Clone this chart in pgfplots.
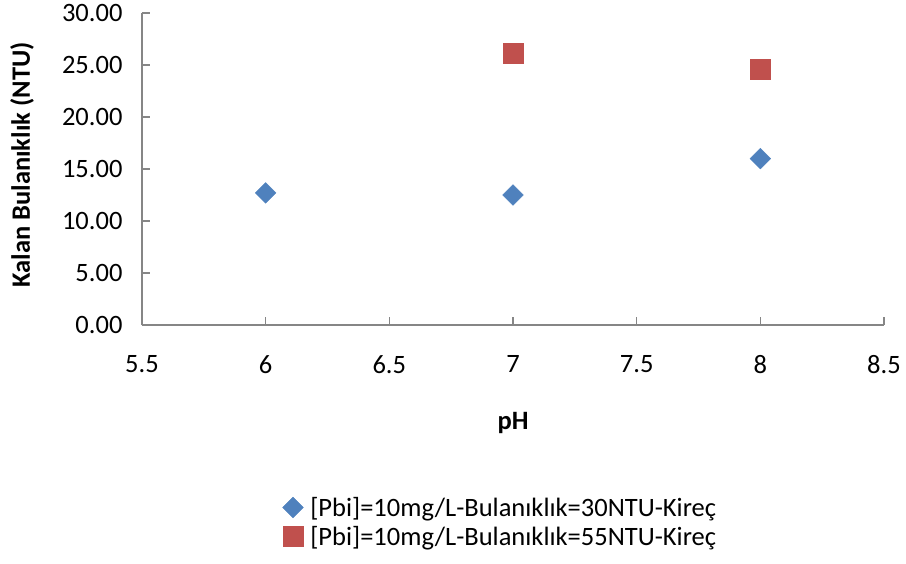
\documentclass[border=0pt]{standalone}
\usepackage{fontspec}
\setmainfont{Carlito}
\usepackage{pgfplots}
\pgfplotsset{compat=1.18}
\definecolor{ablue}{HTML}{4F81BD}
\definecolor{ared}{HTML}{C0504D}
\definecolor{agray}{HTML}{868686}
\begin{document}
\begin{tikzpicture}
\begin{axis}[
  scale only axis, width=742pt, height=312pt,
  xmin=5.5, xmax=8.5, ymin=0, ymax=30,
  axis lines=left,
  axis line style={-, agray, line width=1.2pt},
  xtick={5.5,6,6.5,7,7.5,8,8.5},
  ytick={0,5,10,15,20,25,30},
  tick align=inside, major tick length=8pt,
  tick style={agray, line width=1.2pt},
  /pgf/number format/assume math mode=true,
  tick label style={font=\fontsize{26.5}{31}\selectfont, black},
  y tick label style={/pgf/number format/fixed, /pgf/number format/fixed zerofill, /pgf/number format/precision=2, xshift=-16pt},
  x tick label style={/pgf/number format/fixed, yshift=-27pt},
  xlabel={\textbf{pH}},
  ylabel={\textbf{Kalan Bulanıklık (NTU)}},
  label style={font=\fontsize{26.5}{31}\selectfont},
  xlabel style={at={(axis description cs:0.5,-0.314)}, anchor=center},
  ylabel style={at={(axis description cs:-0.1617,0.513)}, anchor=center},
  legend style={draw=none, fill=none, font=\fontsize{26.5}{31}\selectfont,
    at={(axis description cs:0.483,-0.631)}, anchor=center,
    cells={anchor=west}, row sep=4pt},
]
\addplot[only marks, mark=square*, mark size=7.3pt, mark options={rotate=45, fill=ablue, draw=ablue}]
  coordinates {(6,12.7) (7,12.5) (8,16.0)};
\addlegendentry{\hspace*{5pt}[Pbi]=10mg/L-Bulanıklık=30NTU-Kireç}
\addplot[only marks, mark=square*, mark size=10pt, mark options={fill=ared, draw=ared}]
  coordinates {(7,26.1) (8,24.6)};
\addlegendentry{\hspace*{5pt}[Pbi]=10mg/L-Bulanıklık=55NTU-Kireç}
\end{axis}
\path (current axis.south west) ++(-142pt,-238pt) rectangle ++(906pt,563pt);
\end{tikzpicture}
\end{document}
